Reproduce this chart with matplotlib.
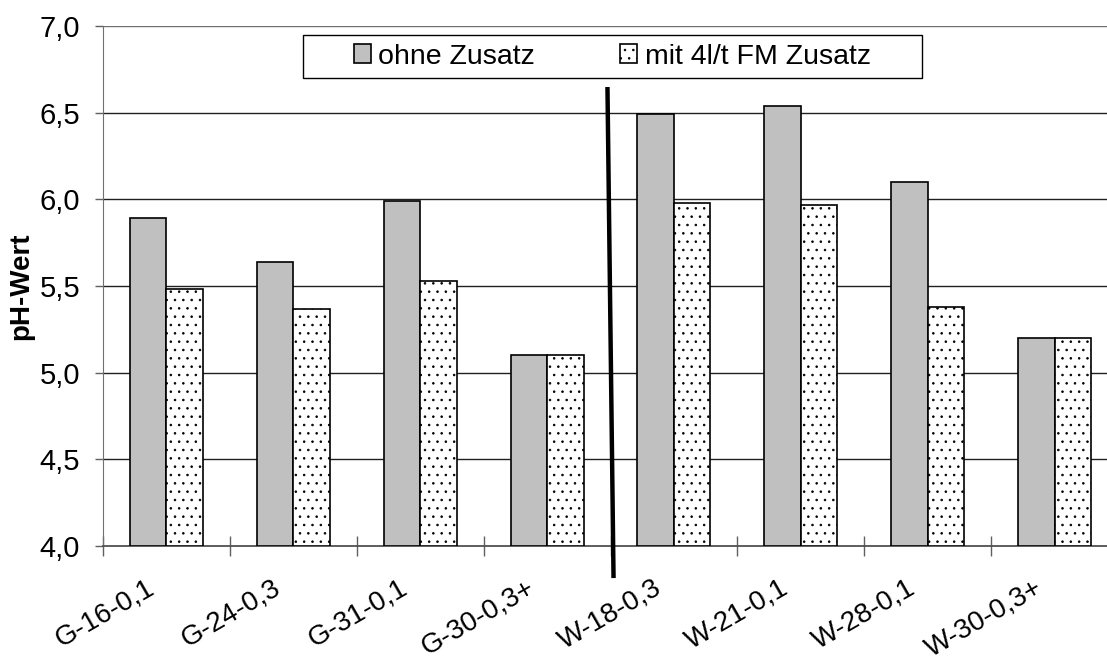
import matplotlib
matplotlib.use("Agg")
import matplotlib.pyplot as plt
from matplotlib.patches import Rectangle
import numpy as np

plt.rcParams['font.family'] = ['Liberation Sans', 'DejaVu Sans']
plt.rcParams['hatch.linewidth'] = 0.6

categories = ["G-16-0,1", "G-24-0,3", "G-31-0,1", "G-30-0,3+",
              "W-18-0,3", "W-21-0,1", "W-28-0,1", "W-30-0,3+"]
ohne_zusatz = [5.89, 5.64, 5.99, 5.10, 6.49, 6.54, 6.10, 5.20]
mit_zusatz = [5.48, 5.37, 5.53, 5.10, 5.98, 5.97, 5.38, 5.20]
y_ticks = [4.0, 4.5, 5.0, 5.5, 6.0, 6.5, 7.0]
y_ticklabels = ["4,0", "4,5", "5,0", "5,5", "6,0", "6,5", "7,0"]

W, H = 1107, 656
fig = plt.figure(figsize=(W / 100, H / 100), dpi=100)
ax = fig.add_axes([103 / W, 1 - 546 / H, 1015 / W, 520 / H])

x = np.arange(len(categories))
w = 0.288
ax.bar(x - w / 2, np.array(ohne_zusatz) - 4.0, w, bottom=4.0, color="#c0c0c0",
       edgecolor="black", linewidth=1.2, label="ohne Zusatz", zorder=3)
ax.bar(x + w / 2, np.array(mit_zusatz) - 4.0, w, bottom=4.0, color="white",
       edgecolor="black", hatch="..", linewidth=1.2, label="mit 4l/t FM Zusatz",
       zorder=3)

ax.set_xlim(-0.5, len(categories) - 0.5)
ax.set_ylim(4.0, 7.0)
ax.set_yticks(y_ticks)
ax.set_yticklabels(y_ticklabels, fontsize=21)
for y in y_ticks[1:]:
    ax.axhline(y, color="#202020" if y < 7 else "#707070", linewidth=1.0, zorder=1)

ax.set_xticks(np.arange(len(categories) + 1) - 0.5)
ax.set_xticklabels([])
ax.tick_params(axis="x", direction="inout", length=14, width=1.0, color="#606060")
ax.tick_params(axis="y", direction="out", length=6, width=1.0, color="#606060",
               pad=10.5)
for i, lab in enumerate(categories):
    ax.text(i - 0.165, 3.835, lab, rotation=30, ha="right", va="top",
            rotation_mode="anchor", fontsize=20)

ax.spines["top"].set_visible(False)
ax.spines["right"].set_visible(False)
ax.spines["left"].set_color("#707070")
ax.spines["bottom"].set_color("#505050")
ax.spines["bottom"].set_linewidth(1.3)

ax.set_ylabel("pH-Wert", fontsize=20, fontweight="bold")
ax.yaxis.set_label_coords((34 - 103) / 1015, 0.5)

# separator between G- and W-series
ax.plot([3.476, 3.524], [6.648, 3.815], color="black", linewidth=3.2,
        clip_on=False, zorder=5, solid_capstyle="butt")

# legend frame
fx0, fx1, fy0, fy1 = 303, 922, 35, 78
frame = Rectangle((fx0 / W, 1 - fy1 / H), (fx1 - fx0) / W, (fy1 - fy0) / H,
                  transform=fig.transFigure, facecolor="white",
                  edgecolor="black", linewidth=1.0, zorder=6)
fig.patches.append(frame)

leg = fig.legend(loc="center left", bbox_to_anchor=(354 / W, 1 - 56.5 / H),
                 ncol=2, fontsize=20.5, frameon=False,
                 handlelength=0.6, handleheight=0.6,
                 handletextpad=0.25, columnspacing=3.0, borderpad=0,
                 borderaxespad=0)
leg.set_zorder(7)

fig.savefig("out.png", dpi=100)
